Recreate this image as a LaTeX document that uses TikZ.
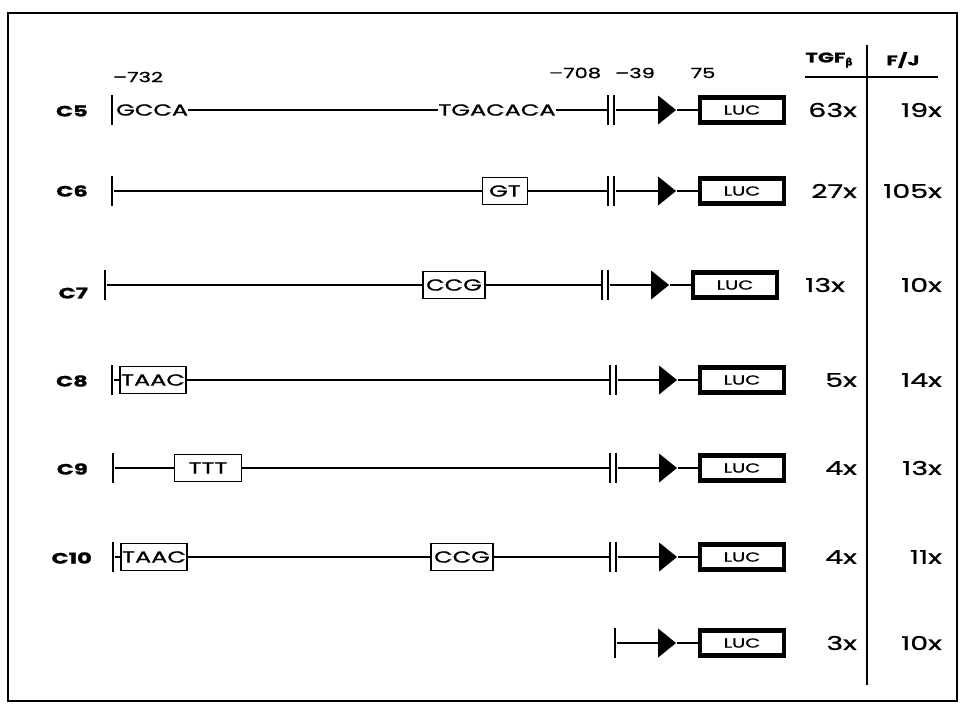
\documentclass[tikz,border=0pt]{standalone}
\usepackage{fontspec}
\setmainfont[FakeStretch=1.25]{Poppins}
\newfontfamily\widefont[FakeStretch=1.5, FakeBold=1.1]{Poppins}
\newfontfamily\greekfont[FakeBold=1.5]{DejaVu Sans}
\usetikzlibrary{shapes.geometric}

\begin{document}
\begin{tikzpicture}[
  x=1pt, y=-1pt,
  dna/.style={line width=2pt},
  tickmark/.style={rectangle, fill=black, inner sep=0pt, minimum width=2.6pt, minimum height=30pt},
  site/.style={rectangle, draw, line width=1.6pt, inner sep=0pt, minimum height=27pt, font=\widefont\fontsize{16}{16}\selectfont},
  seq/.style={inner sep=0pt, font=\widefont\fontsize{16}{16}\selectfont},
  promoter/.style={isosceles triangle, isosceles triangle stretches, fill=black, inner sep=0pt, minimum width=29pt, minimum height=18pt},
  luc/.style={rectangle, draw, line width=4.8pt, inner sep=0pt, minimum width=84pt, minimum height=25pt, font=\widefont\fontsize{13}{13}\selectfont},
  rowlabel/.style={anchor=east, inner sep=0pt, font=\widefont\bfseries\fontsize{15}{15}\selectfont},
  coordlabel/.style={inner sep=0pt, font=\widefont\fontsize{14}{14}\selectfont},
  fold/.style={anchor=east, inner sep=0pt, font=\widefont\fontsize{19}{19}\selectfont},
  head/.style={inner sep=0pt, font=\widefont\bfseries\fontsize{14}{14}\selectfont}
]
\useasboundingbox (0,0) rectangle (960,713);

% Frame
\draw[line width=2.4pt] (8,13) rectangle (957,701);

% Header
\node[coordlabel] (p732) at (138,77) {–732};
\node[coordlabel] (p708) at (575,73) {–708};
\node[coordlabel] (p39) at (635,73) {–39};
\node[coordlabel] (p75) at (703,73) {75};
\node[head] (tgf) at (829,60) {TGF\raisebox{-3pt}{\greekfont\fontsize{10}{10}\selectfont β}};
\node[head] (fj) at (903,60) {F/J};
\coordinate (coltop) at (867,45);
\coordinate (colbot) at (867,685);
\coordinate (rulel) at (805,77);
\coordinate (ruler) at (938,77);
\draw[line width=1.8pt] (coltop) -- (colbot);
\draw[line width=1.8pt] (rulel) -- (ruler);

% C5
\node[rowlabel] (c5) at (88,111) {C5};
\node[tickmark] (t5) at (112,110) {};
\node[seq, anchor=west] (gcca5) at (116,110) {GCCA};
\node[seq] (tga5) at (497,110) {TGACACA};
\node[tickmark] (b5a) at (608,110) {};
\node[tickmark] (b5b) at (614,110) {};
\node[promoter] (p5) at (665,110) {};
\node[luc] (luc5) at (742,110) {LUC};
\node[fold] (f5a) at (857,110) {63x};
\node[fold] (f5b) at (942,110) {19x};

% C6
\node[rowlabel] (c6) at (88,191) {C6};
\node[tickmark] (t6) at (112,191) {};
\node[site, minimum width=45pt] (gt6) at (505,191) {GT};
\node[tickmark] (b6a) at (608,191) {};
\node[tickmark] (b6b) at (614,191) {};
\node[promoter] (p6) at (665,191) {};
\node[luc] (luc6) at (742,191) {LUC};
\node[fold] (f6a) at (857,191) {27x};
\node[fold] (f6b) at (942,191) {105x};

% C7
\node[rowlabel] (c7) at (88,293) {C7};
\node[tickmark] (t7) at (105,285) {};
\node[site, minimum width=62pt] (ccg7) at (454,285) {CCG};
\node[tickmark] (b7a) at (602,285) {};
\node[tickmark] (b7b) at (608,285) {};
\node[promoter] (p7) at (658,285) {};
\node[luc] (luc7) at (735,285) {LUC};
\node[fold] (f7a) at (845,285) {13x};
\node[fold] (f7b) at (942,285) {10x};

% C8
\node[rowlabel] (c8) at (88,381) {C8};
\node[tickmark] (t8) at (112,380) {};
\node[site, minimum width=66pt] (taac8) at (153,380) {TAAC};
\node[tickmark] (b8a) at (610,380) {};
\node[tickmark] (b8b) at (616,380) {};
\node[promoter] (p8) at (666,380) {};
\node[luc] (luc8) at (742,380) {LUC};
\node[fold] (f8a) at (857,380) {5x};
\node[fold] (f8b) at (942,380) {14x};

% C9
\node[rowlabel] (c9) at (88,469) {C9};
\node[tickmark] (t9) at (113,468) {};
\node[site, minimum width=67pt] (ttt9) at (208,468) {TTT};
\node[tickmark] (b9a) at (610,468) {};
\node[tickmark] (b9b) at (616,468) {};
\node[promoter] (p9) at (666,468) {};
\node[luc] (luc9) at (742,468) {LUC};
\node[fold] (f9a) at (857,468) {4x};
\node[fold] (f9b) at (942,468) {13x};

% C10
\node[rowlabel] (c10) at (92,558) {C10};
\node[tickmark] (t10) at (113,557) {};
\node[site, minimum width=66pt] (taac10) at (154,557) {TAAC};
\node[site, minimum width=62pt] (ccg10) at (462,557) {CCG};
\node[tickmark] (b10a) at (610,557) {};
\node[tickmark] (b10b) at (616,557) {};
\node[promoter] (p10) at (666,557) {};
\node[luc] (luc10) at (742,557) {LUC};
\node[fold] (f10a) at (857,557) {4x};
\node[fold] (f10b) at (942,557) {11x};

% basal promoter only
\node[tickmark] (t11) at (615,643) {};
\node[promoter] (p11) at (665,643) {};
\node[luc] (luc11) at (742,643) {LUC};
\node[fold] (f11a) at (857,643) {3x};
\node[fold] (f11b) at (942,643) {10x};

% Lines
\draw[dna] (gcca5) -- (tga5) -- (b5a);
\draw[dna] (b5b) -- (p5) -- (luc5);
\draw[dna] (t6) -- (gt6) -- (b6a);
\draw[dna] (b6b) -- (p6) -- (luc6);
\draw[dna] (t7) -- (ccg7) -- (b7a);
\draw[dna] (b7b) -- (p7) -- (luc7);
\draw[dna] (t8) -- (taac8) -- (b8a);
\draw[dna] (b8b) -- (p8) -- (luc8);
\draw[dna] (t9) -- (ttt9) -- (b9a);
\draw[dna] (b9b) -- (p9) -- (luc9);
\draw[dna] (t10) -- (taac10) -- (ccg10) -- (b10a);
\draw[dna] (b10b) -- (p10) -- (luc10);
\draw[dna] (t11) -- (p11) -- (luc11);

\end{tikzpicture}
\end{document}
